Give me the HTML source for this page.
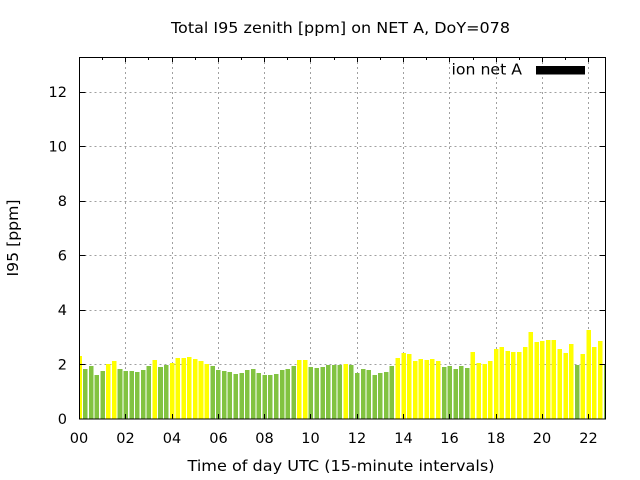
<!DOCTYPE html>
<html><head><meta charset="utf-8"><style>
html,body{margin:0;padding:0;background:#fff;}
svg{display:block;}
text{font-family:"DejaVu Sans","Liberation Sans",sans-serif;fill:#000;}
.g{fill:#82c341;}
.y{fill:#ffff00;}
</style></head><body>
<svg width="640" height="480" viewBox="0 0 640 480" xmlns="http://www.w3.org/2000/svg">
<defs><clipPath id="pc"><rect x="79.5" y="57" width="526" height="362"/></clipPath></defs>
<rect width="640" height="480" fill="#fff"/>
<!-- grid -->
<g stroke="#a0a0a0" stroke-width="1" stroke-dasharray="2,3" fill="none">
<line x1="79.5" y1="364.5" x2="605.5" y2="364.5"/>
<line x1="79.5" y1="310.5" x2="605.5" y2="310.5"/>
<line x1="79.5" y1="255.5" x2="605.5" y2="255.5"/>
<line x1="79.5" y1="201.5" x2="605.5" y2="201.5"/>
<line x1="79.5" y1="146.5" x2="605.5" y2="146.5"/>
<line x1="79.5" y1="92.5" x2="605.5" y2="92.5"/>
<line x1="125.5" y1="57" x2="125.5" y2="419"/>
<line x1="172.5" y1="57" x2="172.5" y2="419"/>
<line x1="218.5" y1="57" x2="218.5" y2="419"/>
<line x1="264.5" y1="57" x2="264.5" y2="419"/>
<line x1="310.5" y1="57" x2="310.5" y2="419"/>
<line x1="357.5" y1="57" x2="357.5" y2="419"/>
<line x1="403.5" y1="57" x2="403.5" y2="419"/>
<line x1="449.5" y1="57" x2="449.5" y2="419"/>
<line x1="496.5" y1="57" x2="496.5" y2="419"/>
<line x1="542.5" y1="57" x2="542.5" y2="419"/>
<line x1="588.5" y1="57" x2="588.5" y2="419"/>
</g>
<!-- bars -->
<g clip-path="url(#pc)"><g transform="translate(79.5 0) scale(5.786 1)" shape-rendering="crispEdges">
<rect class="y" x="-0.39" width="0.78" y="356" height="63"/>
<rect class="g" x="0.61" width="0.78" y="369" height="50"/>
<rect class="g" x="1.61" width="0.78" y="366" height="53"/>
<rect class="g" x="2.61" width="0.78" y="375" height="44"/>
<rect class="g" x="3.61" width="0.78" y="371" height="48"/>
<rect class="y" x="4.61" width="0.78" y="364" height="55"/>
<rect class="y" x="5.61" width="0.78" y="361" height="58"/>
<rect class="g" x="6.61" width="0.78" y="369" height="50"/>
<rect class="g" x="7.61" width="0.78" y="371" height="48"/>
<rect class="g" x="8.61" width="0.78" y="371" height="48"/>
<rect class="g" x="9.61" width="0.78" y="372" height="47"/>
<rect class="g" x="10.61" width="0.78" y="370" height="49"/>
<rect class="g" x="11.61" width="0.78" y="366" height="53"/>
<rect class="y" x="12.61" width="0.78" y="360" height="59"/>
<rect class="g" x="13.61" width="0.78" y="367" height="52"/>
<rect class="g" x="14.61" width="0.78" y="365" height="54"/>
<rect class="y" x="15.61" width="0.78" y="363" height="56"/>
<rect class="y" x="16.61" width="0.78" y="358" height="61"/>
<rect class="y" x="17.61" width="0.78" y="358" height="61"/>
<rect class="y" x="18.61" width="0.78" y="357" height="62"/>
<rect class="y" x="19.61" width="0.78" y="359" height="60"/>
<rect class="y" x="20.61" width="0.78" y="361" height="58"/>
<rect class="y" x="21.61" width="0.78" y="364" height="55"/>
<rect class="g" x="22.61" width="0.78" y="366" height="53"/>
<rect class="g" x="23.61" width="0.78" y="370" height="49"/>
<rect class="g" x="24.61" width="0.78" y="371" height="48"/>
<rect class="g" x="25.61" width="0.78" y="372" height="47"/>
<rect class="g" x="26.61" width="0.78" y="374" height="45"/>
<rect class="g" x="27.61" width="0.78" y="373" height="46"/>
<rect class="g" x="28.61" width="0.78" y="370" height="49"/>
<rect class="g" x="29.61" width="0.78" y="369" height="50"/>
<rect class="g" x="30.61" width="0.78" y="373" height="46"/>
<rect class="g" x="31.61" width="0.78" y="375" height="44"/>
<rect class="g" x="32.61" width="0.78" y="375" height="44"/>
<rect class="g" x="33.61" width="0.78" y="374" height="45"/>
<rect class="g" x="34.61" width="0.78" y="370" height="49"/>
<rect class="g" x="35.61" width="0.78" y="369" height="50"/>
<rect class="g" x="36.61" width="0.78" y="366" height="53"/>
<rect class="y" x="37.61" width="0.78" y="360" height="59"/>
<rect class="y" x="38.61" width="0.78" y="360" height="59"/>
<rect class="g" x="39.61" width="0.78" y="367" height="52"/>
<rect class="g" x="40.61" width="0.78" y="368" height="51"/>
<rect class="g" x="41.61" width="0.78" y="367" height="52"/>
<rect class="g" x="42.61" width="0.78" y="365" height="54"/>
<rect class="g" x="43.61" width="0.78" y="365" height="54"/>
<rect class="g" x="44.61" width="0.78" y="365" height="54"/>
<rect class="y" x="45.61" width="0.78" y="364" height="55"/>
<rect class="g" x="46.61" width="0.78" y="365" height="54"/>
<rect class="g" x="47.61" width="0.78" y="373" height="46"/>
<rect class="g" x="48.61" width="0.78" y="369" height="50"/>
<rect class="g" x="49.61" width="0.78" y="370" height="49"/>
<rect class="g" x="50.61" width="0.78" y="375" height="44"/>
<rect class="g" x="51.61" width="0.78" y="373" height="46"/>
<rect class="g" x="52.61" width="0.78" y="372" height="47"/>
<rect class="g" x="53.61" width="0.78" y="366" height="53"/>
<rect class="y" x="54.61" width="0.78" y="358" height="61"/>
<rect class="y" x="55.61" width="0.78" y="353" height="66"/>
<rect class="y" x="56.61" width="0.78" y="354" height="65"/>
<rect class="y" x="57.61" width="0.78" y="361" height="58"/>
<rect class="y" x="58.61" width="0.78" y="359" height="60"/>
<rect class="y" x="59.61" width="0.78" y="360" height="59"/>
<rect class="y" x="60.61" width="0.78" y="359" height="60"/>
<rect class="y" x="61.61" width="0.78" y="361" height="58"/>
<rect class="g" x="62.61" width="0.78" y="367" height="52"/>
<rect class="g" x="63.61" width="0.78" y="366" height="53"/>
<rect class="g" x="64.61" width="0.78" y="369" height="50"/>
<rect class="g" x="65.61" width="0.78" y="366" height="53"/>
<rect class="g" x="66.61" width="0.78" y="368" height="51"/>
<rect class="y" x="67.61" width="0.78" y="352" height="67"/>
<rect class="y" x="68.61" width="0.78" y="363" height="56"/>
<rect class="y" x="69.61" width="0.78" y="364" height="55"/>
<rect class="y" x="70.61" width="0.78" y="361" height="58"/>
<rect class="y" x="71.61" width="0.78" y="349" height="70"/>
<rect class="y" x="72.61" width="0.78" y="347" height="72"/>
<rect class="y" x="73.61" width="0.78" y="351" height="68"/>
<rect class="y" x="74.61" width="0.78" y="352" height="67"/>
<rect class="y" x="75.61" width="0.78" y="352" height="67"/>
<rect class="y" x="76.61" width="0.78" y="347" height="72"/>
<rect class="y" x="77.61" width="0.78" y="332" height="87"/>
<rect class="y" x="78.61" width="0.78" y="342" height="77"/>
<rect class="y" x="79.61" width="0.78" y="341" height="78"/>
<rect class="y" x="80.61" width="0.78" y="340" height="79"/>
<rect class="y" x="81.61" width="0.78" y="340" height="79"/>
<rect class="y" x="82.61" width="0.78" y="349" height="70"/>
<rect class="y" x="83.61" width="0.78" y="353" height="66"/>
<rect class="y" x="84.61" width="0.78" y="344" height="75"/>
<rect class="g" x="85.61" width="0.78" y="365" height="54"/>
<rect class="y" x="86.61" width="0.78" y="354" height="65"/>
<rect class="y" x="87.61" width="0.78" y="330" height="89"/>
<rect class="y" x="88.61" width="0.78" y="347" height="72"/>
<rect class="y" x="89.61" width="0.78" y="341" height="78"/>
<rect class="g" x="90.61" width="0.78" y="365" height="54"/>
</g></g>
<!-- ticks -->
<g stroke="#000" stroke-width="1" fill="none">
<path d="M79.5 364.5h6M79.5 310.5h6M79.5 255.5h6M79.5 201.5h6M79.5 146.5h6M79.5 92.5h6"/>
<path d="M605.5 364.5h-6M605.5 310.5h-6M605.5 255.5h-6M605.5 201.5h-6M605.5 146.5h-6M605.5 92.5h-6"/>
<path d="M125.5 57v5M172.5 57v5M218.5 57v5M264.5 57v5M310.5 57v5M357.5 57v5M403.5 57v5M449.5 57v5M496.5 57v5M542.5 57v5M588.5 57v5"/>
<path d="M102.5 57v3M148.5 57v3M195.5 57v3M241.5 57v3M287.5 57v3M334.5 57v3M380.5 57v3M426.5 57v3M473.5 57v3M519.5 57v3M565.5 57v3"/>
<path d="M125.5 419v-5M172.5 419v-5M218.5 419v-5M264.5 419v-5M310.5 419v-5M357.5 419v-5M403.5 419v-5M449.5 419v-5M496.5 419v-5M542.5 419v-5M588.5 419v-5"/>
<rect x="79.5" y="57.5" width="526" height="361.5"/>
</g>
<!-- y tick labels -->
<g font-size="14.5" text-anchor="end">
<text x="67" y="424">0</text>
<text x="67" y="369.5">2</text>
<text x="67" y="315">4</text>
<text x="67" y="260.5">6</text>
<text x="67" y="206">8</text>
<text x="67" y="151.5">10</text>
<text x="67" y="97">12</text>
</g>
<!-- x tick labels -->
<g font-size="14.5" text-anchor="middle">
<text x="79" y="443">00</text>
<text x="125.5" y="443">02</text>
<text x="172" y="443">04</text>
<text x="218.5" y="443">06</text>
<text x="264.5" y="443">08</text>
<text x="310.5" y="443">10</text>
<text x="357" y="443">12</text>
<text x="403.5" y="443">14</text>
<text x="449.5" y="443">16</text>
<text x="496" y="443">18</text>
<text x="542" y="443">20</text>
<text x="588.5" y="443">22</text>
</g>
<!-- title & labels -->
<text x="171" y="33" font-size="15.5" textLength="339" lengthAdjust="spacingAndGlyphs">Total I95 zenith [ppm] on NET A, DoY=078</text>
<text x="187.5" y="471" font-size="15.5" textLength="307" lengthAdjust="spacingAndGlyphs">Time of day UTC (15-minute intervals)</text>
<text transform="translate(18 238) rotate(-90)" font-size="15.5" text-anchor="middle" textLength="77" lengthAdjust="spacingAndGlyphs">I95 [ppm]</text>
<!-- legend -->
<text x="451.5" y="74.5" font-size="15.5" textLength="70.5" lengthAdjust="spacingAndGlyphs">ion net A</text>
<rect x="536" y="66" width="49" height="8.5" fill="#000"/>
</svg>
</body></html>
